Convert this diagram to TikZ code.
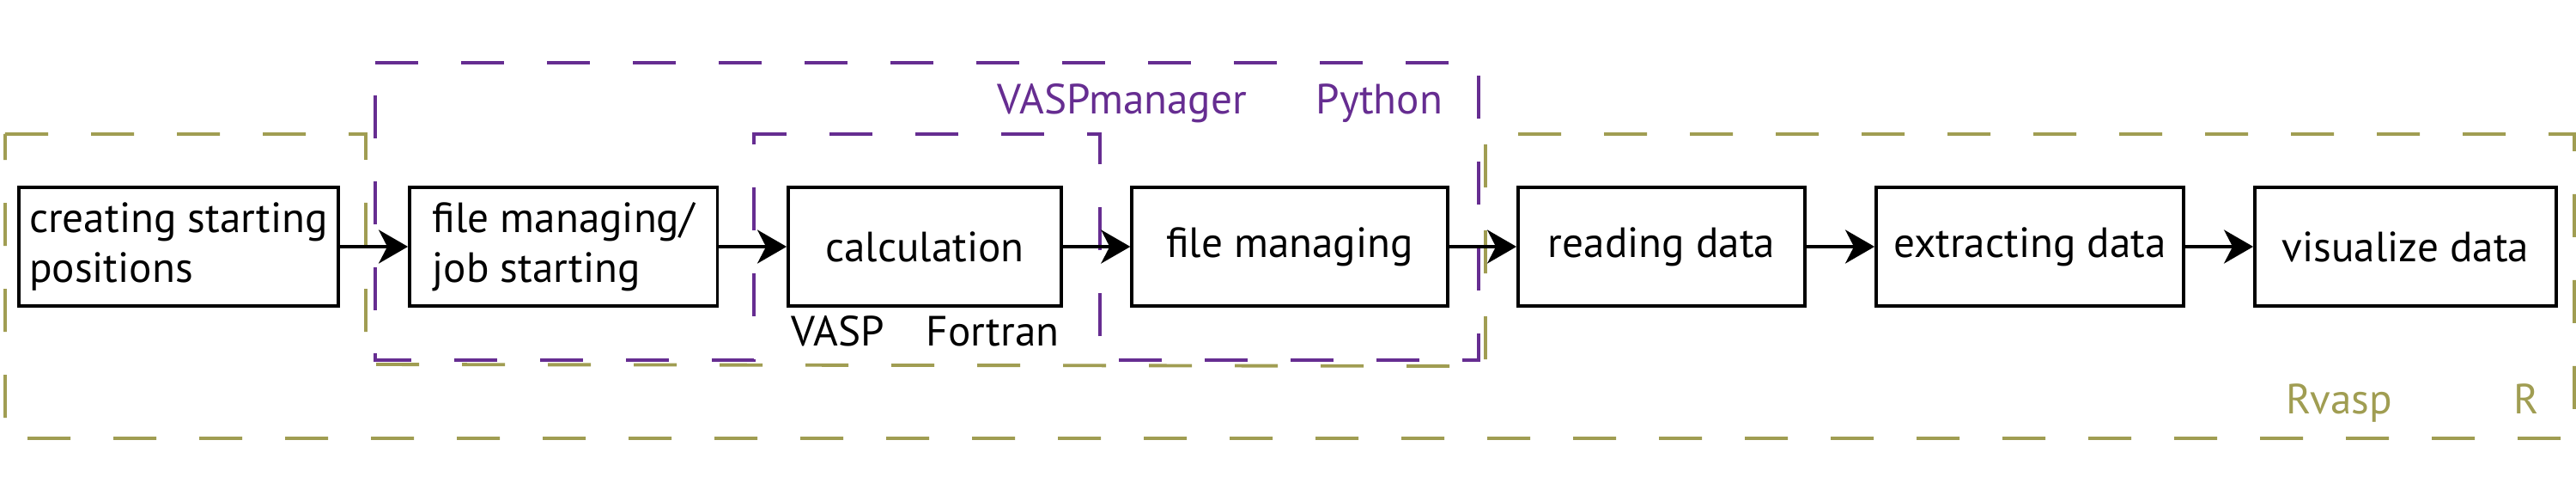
\documentclass[tikz,border=0pt]{standalone}
\usepackage{fontspec}
\setmainfont{PT Sans}
\usepackage{tikz}
\usetikzlibrary{arrows.meta}
\definecolor{vmpurple}{RGB}{102,45,145}
\definecolor{rolive}{RGB}{160,157,82}

\begin{document}
\begin{tikzpicture}[
    box/.style={draw, line width=1.1pt, minimum height=1.38cm, inner sep=0pt, font=\fontsize{14}{16.5}\selectfont},
    flow/.style={line width=1.1pt, -{Stealth[length=0.34cm, width=0.39cm, inset=0.1cm]}},
    region/.style={line width=1.1pt, dash pattern=on 0.5cm off 0.5cm},
    lang/.style={anchor=base west, inner sep=0pt, font=\fontsize{14}{16.5}\selectfont}
  ]
  \useasboundingbox (0,0) rectangle (30,5.54);

  % Draw R region
  \draw [region, rolive] (0.06,3.98) -- (4.26,3.98) -- (4.26,1.30) -- (17.30,1.28) -- (17.30,3.98) -- (29.98,3.98) -- (29.98,0.44) -- (0.06,0.44) -- cycle;

  % Draw Python region
  \draw [region, vmpurple] (4.37,4.81) -- (17.22,4.81) -- (17.22,1.35) -- (12.81,1.35) -- (12.81,3.98) -- (8.78,3.98) -- (8.78,1.35) -- (4.37,1.35) -- cycle;

  % Boxes
  \node [box, minimum width=3.72cm, align=left] (creating) at (2.08,2.67) {creating starting\\positions};
  \node [box, minimum width=3.585cm, align=left] (jobstart) at (6.5625,2.67) {file managing/\\job starting};
  \node [box, minimum width=3.18cm] (calc) at (10.77,2.67) {calculation};
  \node [box, minimum width=3.675cm] (filemanage) at (15.02,2.67) {file managing};
  \node [box, minimum width=3.34cm] (reading) at (19.35,2.67) {reading data};
  \node [box, minimum width=3.58cm] (extracting) at (23.64,2.67) {extracting data};
  \node [box, minimum width=3.51cm] (visualize) at (28.015,2.67) {visualize data};

  % Arrows
  \draw [flow] (creating) -- (jobstart);
  \draw [flow] (jobstart) -- (calc);
  \draw [flow] (calc) -- (filemanage);
  \draw [flow] (filemanage) -- (reading);
  \draw [flow] (reading) -- (extracting);
  \draw [flow] (extracting) -- (visualize);

  % Labels
  \node [lang, vmpurple] (vmname) at (11.61,4.21) {VASPmanager};
  \node [lang, vmpurple] (vmlang) at (15.32,4.21) {Python};
  \node [lang] (vaspname) at (9.21,1.52) {VASP};
  \node [lang] (vasplang) at (10.78,1.52) {Fortran};
  \node [lang, rolive] (rvname) at (26.62,0.73) {Rvasp};
  \node [lang, rolive] (rvlang) at (29.27,0.73) {R};
\end{tikzpicture}
\end{document}
